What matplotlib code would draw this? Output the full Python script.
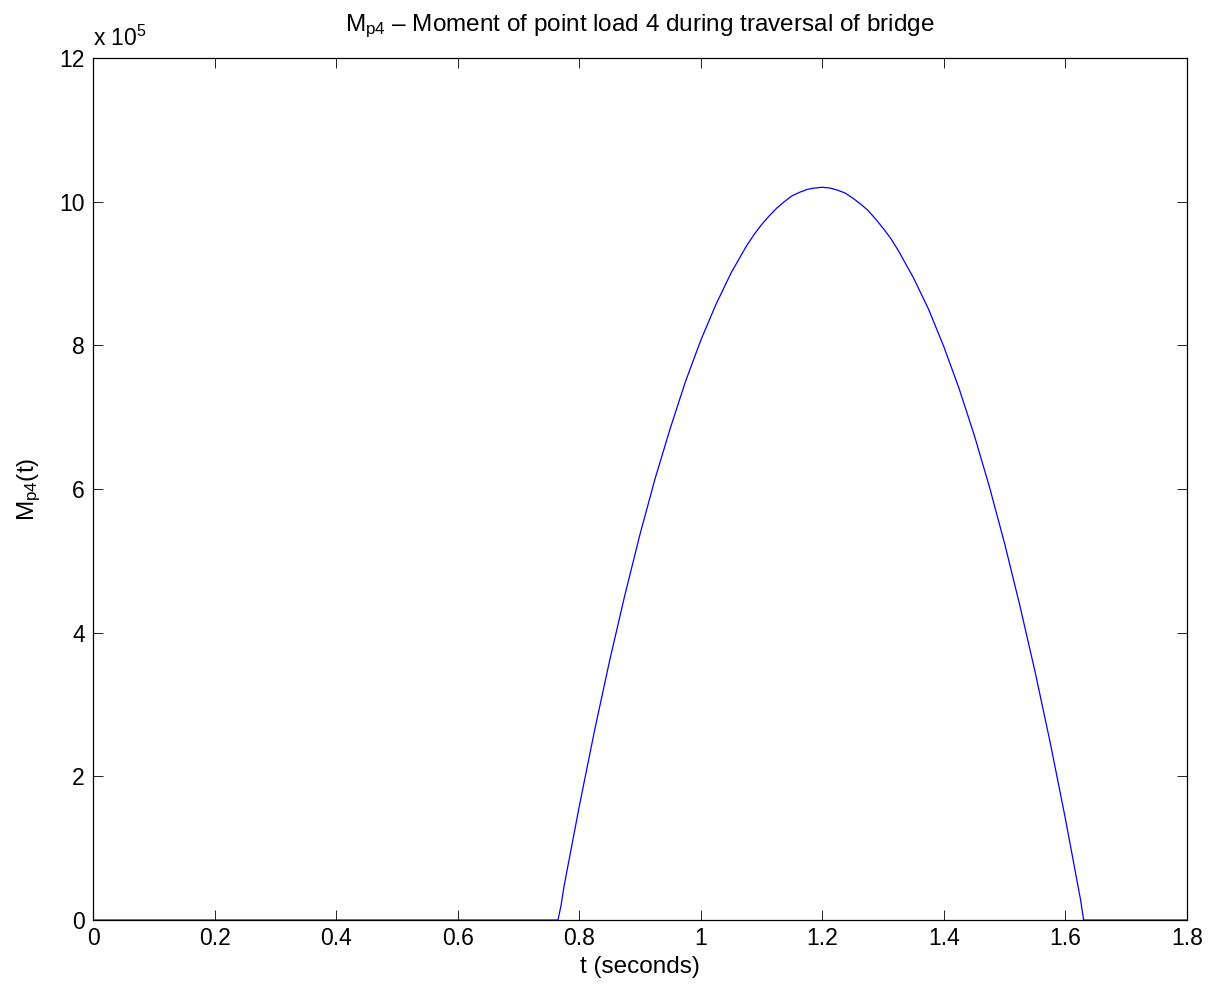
import matplotlib
matplotlib.use("Agg")
import matplotlib.pyplot as plt
from matplotlib.ticker import FuncFormatter

plt.rcParams["font.family"] = ["Liberation Sans", "DejaVu Sans"]
plt.rcParams["mathtext.fontset"] = "custom"
plt.rcParams["mathtext.rm"] = "Liberation Sans"
plt.rcParams["mathtext.it"] = "Liberation Sans"

SCALE = 1e5
FS = 16.5

# time (s) and moment (x 1e5)
t = [0.0, 0.765, 0.770, 0.775, 0.800, 0.825, 0.850, 0.875, 0.900, 0.925,
     0.950, 0.975, 1.000, 1.025, 1.050, 1.075, 1.0875, 1.100, 1.1125,
     1.125, 1.1375, 1.150, 1.1625, 1.175, 1.1875, 1.200, 1.2125, 1.225,
     1.2375, 1.250, 1.2625, 1.275, 1.2875, 1.300, 1.3125, 1.325, 1.350,
     1.375, 1.400, 1.425, 1.450, 1.475, 1.500, 1.525, 1.550, 1.575,
     1.600, 1.625, 1.630, 1.640, 1.800]
m = [0.0, 0.0, 0.20, 0.47, 1.58, 2.63, 3.61, 4.52, 5.37, 6.15,
     6.85, 7.50, 8.07, 8.57, 9.01, 9.38, 9.54, 9.68, 9.80,
     9.91, 10.00, 10.08, 10.13, 10.17, 10.19, 10.20, 10.19, 10.16,
     10.12, 10.05, 9.97, 9.88, 9.76, 9.63, 9.49, 9.32, 8.94,
     8.50, 7.98, 7.40, 6.75, 6.03, 5.24, 4.38, 3.46, 2.47,
     1.41, 0.28, 0.0, 0.0, 0.0]

x_ticks = [0, 0.2, 0.4, 0.6, 0.8, 1, 1.2, 1.4, 1.6, 1.8]
y_ticks = [0, 2, 4, 6, 8, 10, 12]

fig = plt.figure(figsize=(12.18, 9.91), dpi=100)
ax = fig.add_axes([0.0764, 0.0716, 0.8981, 0.8699])

ax.plot(t, [v * SCALE for v in m], color=(0, 0, 1), linewidth=0.9)

ax.set_xlim(0, 1.8)
ax.set_ylim(0, 12 * SCALE)
ax.set_xticks(x_ticks)
ax.set_yticks([v * SCALE for v in y_ticks])
ax.xaxis.set_major_formatter(FuncFormatter(lambda v, p: f"{v:g}"))
ax.yaxis.set_major_formatter(FuncFormatter(lambda v, p: f"{v / SCALE:g}"))
ax.tick_params(direction="in", top=True, right=True, length=7, width=0.6,
               labelsize=FS)
ax.tick_params(axis="x", pad=5)
ax.tick_params(axis="y", pad=6)
for s in ax.spines.values():
    s.set_linewidth(0.9)

ax.text(0.0, 1.008, r"x 10$^5$", transform=ax.transAxes, fontsize=FS,
        ha="left", va="bottom")

ax.set_title(r"M$_{p4}$ – Moment of point load 4 during traversal of bridge",
             fontsize=FS + 1, pad=19)
ax.set_xlabel("t (seconds)", fontsize=FS + 1, labelpad=4)
ax.set_ylabel(r"M$_{p4}$(t)", fontsize=FS + 1, labelpad=12)

fig.savefig("out.png", dpi=100)
